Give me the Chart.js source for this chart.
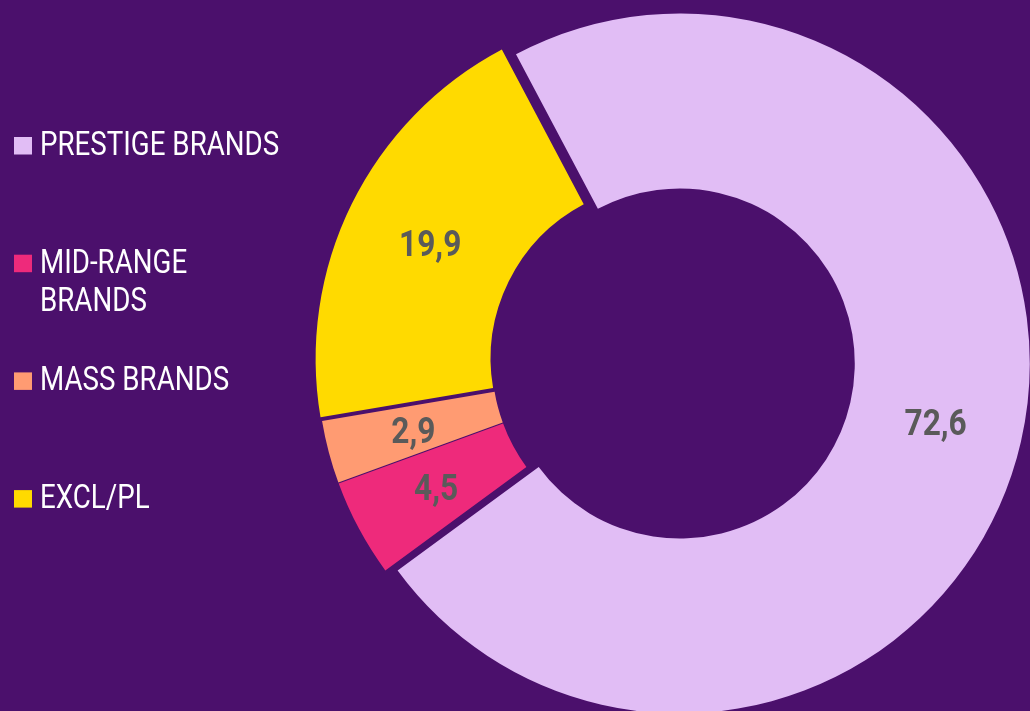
<!DOCTYPE html>
<html>
<head>
<meta charset="utf-8">
<script src="https://cdn.jsdelivr.net/npm/chart.js@4.4.1/dist/chart.umd.min.js"></script>
<style>
  html, body { margin: 0; padding: 0; background: #4b106c; }
  #wrap { position: relative; width: 1030px; height: 711px; }
</style>
</head>
<body>
<div id="wrap"><canvas id="chart"></canvas></div>
<script>
const categories = ['PRESTIGE BRANDS', 'MID-RANGE BRANDS', 'MASS BRANDS', 'EXCL/PL'];
const shares = [72.6, 4.5, 2.9, 19.9];

const sliceColors = ['#e1bdf5', '#ee2a7b', '#ff9b72', '#ffda00'];
// how far each slice is pulled out from the centre (px)
const explode = [9, 4, 4, 6];

// no Roboto Condensed here, so squeeze Roboto sideways
function narrowText(ctx, text, x, y, squeeze) {
  ctx.save();
  ctx.translate(x, y);
  ctx.scale(squeeze, 1);
  ctx.fillText(text, 0, 0);
  ctx.restore();
}

const explodeSlices = {
  id: 'explodeSlices',
  afterDatasetUpdate(chart, args) {
    args.meta.data.forEach((arc, i) => {
      const mid = (arc.startAngle + arc.endAngle) / 2;
      arc.x += Math.cos(mid) * explode[i];
      arc.y += Math.sin(mid) * explode[i];
    });
  },
};

const sliceLabels = {
  id: 'sliceLabels',
  afterDatasetsDraw(chart) {
    const { ctx } = chart;
    const meta = chart.getDatasetMeta(0);
    ctx.save();
    ctx.fillStyle = '#5a5a5a';
    ctx.font = 'bold 36px Roboto';
    ctx.textAlign = 'center';
    ctx.textBaseline = 'alphabetic';
    meta.data.forEach((arc, i) => {
      const { x, y } = arc.getCenterPoint();
      narrowText(ctx, shares[i].toFixed(1).replace('.', ','), x, y + 13, 0.88);
    });
    ctx.restore();
  },
};

const sideLegend = {
  id: 'sideLegend',
  afterDraw(chart) {
    const { ctx } = chart;
    const squeeze = 0.84;
    ctx.save();
    ctx.font = '33px Roboto';
    ctx.textAlign = 'left';
    ctx.textBaseline = 'alphabetic';
    categories.forEach((name, i) => {
      const base = 155 + i * 117.7;
      ctx.fillStyle = sliceColors[i];
      ctx.fillRect(14, base - 18, 18, 17.5);

      // wrap long names
      const lines = [];
      let line = '';
      name.split(' ').forEach((word) => {
        const test = line ? line + ' ' + word : word;
        if (line && ctx.measureText(test).width * squeeze > 250) {
          lines.push(line);
          line = word;
        } else {
          line = test;
        }
      });
      lines.push(line);

      ctx.fillStyle = '#ffffff';
      lines.forEach((l, j) => narrowText(ctx, l, 40, base + j * 38, squeeze));
    });
    ctx.restore();
  },
};

const config = {
  type: 'doughnut',
  data: {
    labels: categories,
    datasets: [
      {
        data: shares,
        backgroundColor: sliceColors,
        borderWidth: 0,
      },
    ],
  },
  options: {
    responsive: true,
    maintainAspectRatio: false,
    animation: false,
    rotation: -27.9,
    radius: 350,
    cutout: '50%',
    layout: {
      padding: { left: 312, top: 12, right: 0, bottom: 0 },
    },
    plugins: {
      legend: { display: false },
      tooltip: { enabled: false },
    },
  },
  plugins: [explodeSlices, sliceLabels, sideLegend],
};

new Chart(document.getElementById('chart'), config);
</script>
</body>
</html>
